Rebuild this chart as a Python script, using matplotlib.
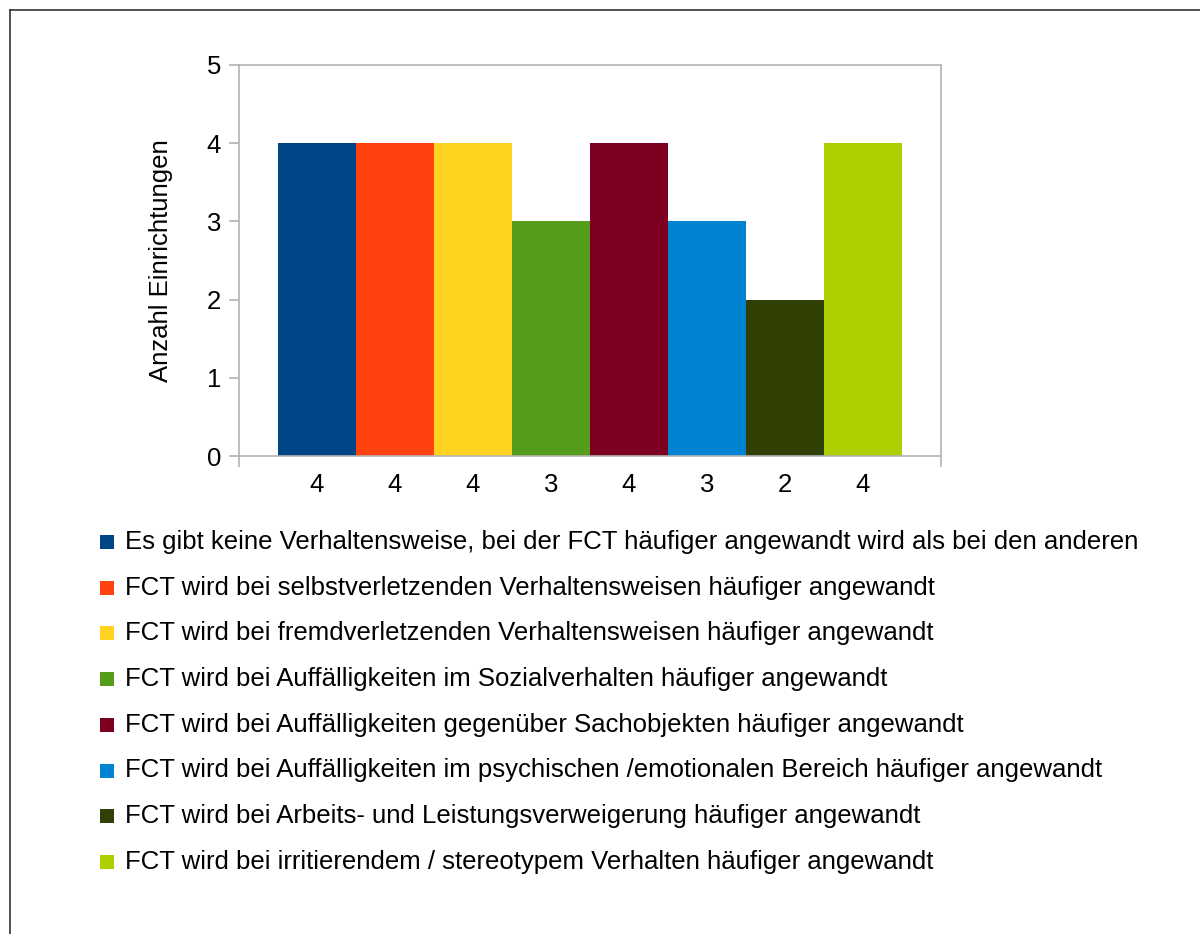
import matplotlib.pyplot as plt
from matplotlib.patches import Rectangle
from matplotlib.lines import Line2D

plt.rcParams['font.family'] = ['Liberation Sans', 'DejaVu Sans']

# Daten
labels = [
    'Es gibt keine Verhaltensweise, bei der FCT häufiger angewandt wird als bei den anderen',
    'FCT wird bei selbstverletzenden Verhaltensweisen häufiger angewandt',
    'FCT wird bei fremdverletzenden Verhaltensweisen häufiger angewandt',
    'FCT wird bei Auffälligkeiten im Sozialverhalten häufiger angewandt',
    'FCT wird bei Auffälligkeiten gegenüber Sachobjekten häufiger angewandt',
    'FCT wird bei Auffälligkeiten im psychischen /emotionalen Bereich häufiger angewandt',
    'FCT wird bei Arbeits- und Leistungsverweigerung häufiger angewandt',
    'FCT wird bei irritierendem / stereotypem Verhalten häufiger angewandt',
]
values = [4, 4, 4, 3, 4, 3, 2, 4]
colors = ['#004586', '#ff420e', '#ffd320', '#579d1c',
          '#7e0021', '#0084d1', '#314004', '#aecf00']

FS = 18.5
W, H = 1200, 934
fig = plt.figure(figsize=(12, 9.34), dpi=100)

# Rahmen (oben und links)
fig.add_artist(Line2D([9.5 / W, 9.5 / W], [0, 1 - 9.5 / H], transform=fig.transFigure,
                      color='#333333', linewidth=1.2))
fig.add_artist(Line2D([9.5 / W, 1], [1 - 9.5 / H, 1 - 9.5 / H], transform=fig.transFigure,
                      color='#333333', linewidth=1.2))

ax = fig.add_axes([239 / W, 1 - 456 / H, 702 / W, (456 - 65) / H])
x = list(range(len(values)))
ax.bar(x, values, width=1.0, color=colors, linewidth=0)

ax.set_xlim(-1, len(values))
ax.set_ylim(0, 5)
ax.set_yticks(range(6))
ax.set_xticks(x)
ax.set_xticklabels([str(v) for v in values])
ax.set_xticks([-1, len(values)], minor=True)

for s in ax.spines.values():
    s.set_color('#b3b3b3')
    s.set_linewidth(1.2)

ax.tick_params(axis='y', length=7, width=1.2, color='#b3b3b3', pad=6, labelsize=FS)
ax.tick_params(axis='x', which='major', length=0, pad=12, labelsize=FS)
ax.tick_params(axis='x', which='minor', length=8, width=1.2, color='#b3b3b3')
ax.set_ylabel('Anzahl Einrichtungen', fontsize=FS, labelpad=24)

# Legende
y0, dy = 542, 45.7
for i, (lab, c) in enumerate(zip(labels, colors)):
    yc = y0 + i * dy
    fig.add_artist(Rectangle((100 / W, 1 - (yc + 7) / H), 14 / W, 14 / H,
                             transform=fig.transFigure, facecolor=c, edgecolor='none'))
    fig.text(125 / W, 1 - yc / H, lab, fontsize=FS, va='center', ha='left')

plt.savefig('out.png', dpi=100)
